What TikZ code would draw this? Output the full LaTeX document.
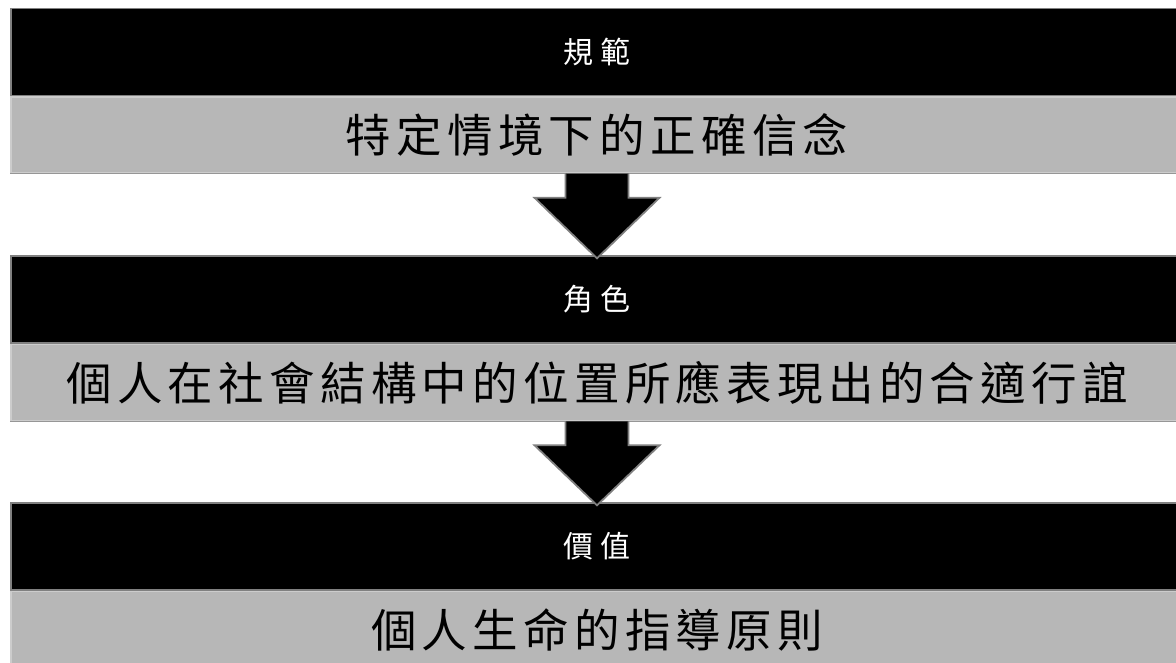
\documentclass[tikz,border=0pt]{standalone}
\usepackage{fontspec}
\newfontfamily\cjk{Noto Sans CJK TC}
\usetikzlibrary{calc}
\newdimen\spcgap
\def\spc#1#2{\spcgap=#1\relax\spcfirst#2\relax}
\def\spcfirst#1{#1\spcrest}
\def\spcrest#1{\ifx#1\relax\else\kern\spcgap#1\expandafter\spcrest\fi}
\definecolor{edgegray}{RGB}{128,128,128}
\definecolor{barfill}{RGB}{183,183,183}
\definecolor{baredge}{RGB}{204,204,204}
\definecolor{barshadow}{RGB}{150,150,150}
\tikzset{
  blackbar/.style={rectangle, fill=black, draw=edgegray, line width=1.5pt,
    minimum width=1172pt, minimum height=87pt, inner sep=0pt, text=white,
    font=\cjk\fontsize{30}{32}\selectfont},
  graybar/.style={rectangle, fill=barfill, draw=baredge, line width=1.5pt,
    minimum width=1172pt, minimum height=76pt, inner sep=0pt, text=black, anchor=north,
    font=\cjk\fontsize{45.5}{48}\selectfont},
  downarrow/.style={fill=black, draw=edgegray, line width=1.8pt, line join=miter},
  shadowline/.style={draw=barshadow, line width=1.2pt}
}
\begin{document}
\begin{tikzpicture}[x=1pt,y=1pt]
\useasboundingbox (0,0) rectangle (1176,-663);
\clip (0,0) rectangle (1176,-663);
\node[blackbar] (t1) at (597,-52) {\spc{7pt}{規範}};
\node[graybar] (g1) at (t1.south) {\spc{5.3pt}{特定情境下的正確信念}};
\node[blackbar] (t2) at (597,-299.5) {\spc{7pt}{角色}};
\node[graybar] (g2) at (t2.south) {\spc{5.3pt}{個人在社會結構中的位置所應表現出的合適行誼}};
\node[blackbar] (t3) at (597,-546.5) {\spc{7pt}{價值}};
\node[graybar] (g3) at (t3.south) {\spc{5.3pt}{個人生命的指導原則}};
\foreach \g in {g1,g2}{
  \draw[shadowline] (\g.south west) -- (\g.south east);
}
\foreach \g/\t in {g1/t2,g2/t3}{
  \coordinate (hb) at ($(\g.south)+(0,-24)$);
  \coordinate (tip) at ($(\t.north)+(0,-3)$);
  \draw[downarrow] ($(\g.south)+(-31.5,0)$) -- ($(hb)+(-31.5,0)$) -- ($(hb)+(-62.5,0)$)
    -- (tip) -- ($(hb)+(62.5,0)$) -- ($(hb)+(31.5,0)$) -- ($(\g.south)+(31.5,0)$);
}
\end{tikzpicture}
\end{document}
